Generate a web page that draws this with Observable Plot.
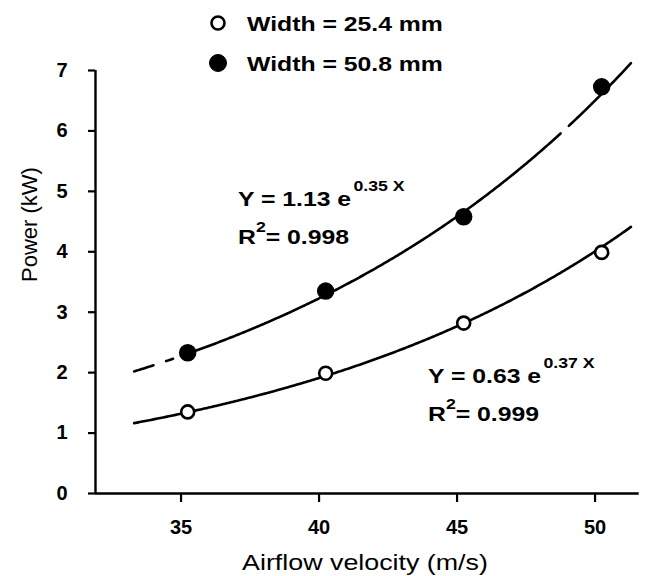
<!DOCTYPE html>
<html>
<head>
<meta charset="utf-8">
<script src="https://cdn.jsdelivr.net/npm/d3@7"></script>
<script src="https://cdn.jsdelivr.net/npm/@observablehq/plot@0.6"></script>
<style>
  html, body { margin: 0; padding: 0; background: #fff; }
  #chart { width: 647px; height: 576px; }
  svg { display: block; }
</style>
</head>
<body>
<div id="chart"></div>
<script>
// Airflow velocity (m/s) at which power was measured
const velocity = [35.24, 40.24, 45.24, 50.24];
// Power (kW) for the two widths
const powerNarrow = [1.35, 1.99, 2.82, 3.99];   // width = 25.4 mm (open circles)
const powerWide = [2.33, 3.35, 4.58, 6.73];     // width = 50.8 mm (filled circles)
const seriesNames = ["Width = 25.4 mm", "Width = 50.8 mm"];
// Exponential fits Y = a·e^(b·X), with X the velocity level (v − 25) / 5
const fitNarrow = {a: 0.63, b: 0.37, r2: "0.999"};
const fitWide = {a: 1.13, b: 0.35, r2: "0.998"};
const xTicks = [35, 40, 45, 50];
const yTicks = [0, 1, 2, 3, 4, 5, 6, 7];

const W = 647, H = 576;
const font = "'Liberation Sans', Arial, Helvetica, sans-serif";

const fitValue = (f, v) => f.a * Math.exp(f.b * (v - 25) / 5);
const fitCurve = (f, v0, v1) => d3.range(v0, v1 + 1e-9, 0.05).map(v => ({v, p: fitValue(f, v)}));

// visible stretches of each fitted line (the wide-strip line starts dashed and has a break near the top)
const narrowPieces = [[33.3, 51.3]];
const widePieces = [[33.3, 34.0], [34.46, 34.75], [35.0, 48.75], [49.05, 51.3]];

const pts = velocity.map((v, i) => ({v, narrow: powerNarrow[i], wide: powerWide[i]}));

const lineMarks = [];
for (const [a, b] of narrowPieces) lineMarks.push(Plot.line(fitCurve(fitNarrow, a, b), {x: "v", y: "p", stroke: "#000", strokeWidth: 2.6}));
for (const [a, b] of widePieces) lineMarks.push(Plot.line(fitCurve(fitWide, a, b), {x: "v", y: "p", stroke: "#000", strokeWidth: 2.6}));

const xDom = [31.9, 51.6];
const yDom = [0, 7];

const plot = Plot.plot({
  width: W,
  height: H,
  marginLeft: 95,
  marginRight: W - 95 - (xDom[1] - xDom[0]) * 27.6,
  marginTop: 70,
  marginBottom: H - 493,
  style: {fontFamily: font, background: "#fff", overflow: "visible"},
  x: {domain: xDom},
  y: {domain: yDom},
  marks: [
    Plot.axisX({ticks: xTicks, tickFormat: d => String(d), tickSize: 9, tickPadding: 17, strokeWidth: 2.2, fontSize: 20, fontWeight: "bold", label: null, fill: "#000"}),
    Plot.axisY({ticks: yTicks, tickFormat: d => String(d), tickSize: 7, tickPadding: 21, strokeWidth: 2.2, fontSize: 20, fontWeight: "bold", label: null, fill: "#000"}),
    // axis lines
    Plot.ruleX([xDom[0]], {y1: 0, y2: 7, stroke: "#000", strokeWidth: 2.4}),
    Plot.ruleY([0], {x1: xDom[0], x2: xDom[1], stroke: "#000", strokeWidth: 2.4}),
    // y-axis title
    Plot.text(["Power (kW)"], {frameAnchor: "left", dx: -66, rotate: -90, text: d => d, fontSize: 22, fill: "#000"}),
    ...lineMarks,
    Plot.dot(pts, {x: "v", y: "wide", r: 8, fill: "#000", stroke: "#000"}),
    Plot.dot(pts, {x: "v", y: "narrow", r: 6.5, fill: "#fff", stroke: "#000", strokeWidth: 2.6})
  ]
});

const svg = d3.select(plot);

// text set in a slightly widened face, anchored at (x, y)
function wideText(x, y, s, size, {weight = "bold", anchor = "start", stretch = 1.18} = {}) {
  const g = svg.append("g").attr("transform", `translate(${x},${y}) scale(${stretch},1)`);
  return g.append("text").attr("font-family", font).attr("font-size", size)
    .attr("font-weight", weight).attr("text-anchor", anchor).attr("fill", "#000").text(s);
}

// x-axis title
wideText((95 + (W - 12)) / 2, 570, "Airflow velocity (m/s)", 22, {weight: "normal", anchor: "middle", stretch: 1.22});

// legend
[[23, false], [63, true]].forEach(([cy, filled], i) => {
  svg.append("circle").attr("cx", 218).attr("cy", cy).attr("r", filled ? 8.5 : 6.5)
    .attr("fill", filled ? "#000" : "#fff").attr("stroke", "#000").attr("stroke-width", filled ? 1 : 2.6);
  wideText(247, cy + 7.5, seriesNames[i], 21);
});

// equations
function equation(x, y, f) {
  const t = wideText(x, y, `Y = ${f.a.toFixed(2)} e`, 21);
  t.append("tspan").attr("font-size", 15).attr("font-weight", "600").attr("dy", -15).attr("dx", 2).text(`${f.b.toFixed(2)} X`);
  const r = wideText(x, y + 38, "R", 21);
  r.append("tspan").attr("font-size", 15).attr("dy", -12).text("2");
  r.append("tspan").attr("dy", 12).text(`= ${f.r2}`);
}
equation(238, 206, fitWide);
equation(428, 383, fitNarrow);

document.getElementById("chart").appendChild(plot);
</script>
</body>
</html>
